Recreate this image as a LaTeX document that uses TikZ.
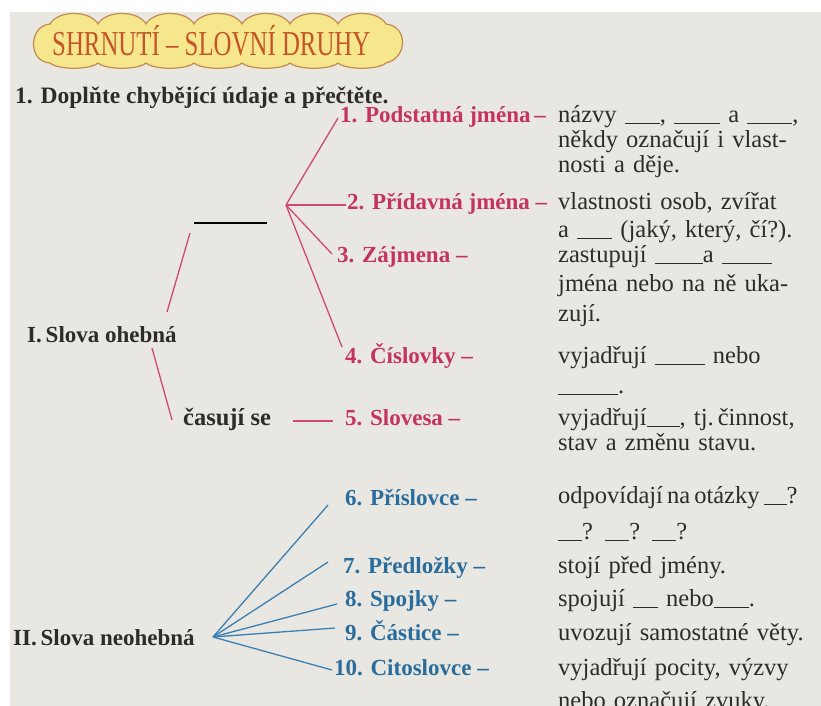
\documentclass[tikz,border=0pt]{standalone}
\usepackage{fontspec}
\setmainfont{Liberation Serif}
\newfontfamily\bannerfont[FakeStretch=0.71]{Liberation Serif}
\usetikzlibrary{positioning}
\definecolor{paper}{HTML}{E8E7E2}
\definecolor{inflect}{HTML}{C4345E}
\definecolor{inflectline}{HTML}{D04A70}
\definecolor{uninflect}{HTML}{2A6D9C}
\definecolor{uninflectline}{HTML}{3A80B2}
\definecolor{ink}{HTML}{2E2B29}
\definecolor{bannerfill}{HTML}{F6E68C}
\definecolor{bannerline}{HTML}{C58A50}
\definecolor{bannertext}{HTML}{C4542A}
\newcommand{\fillgap}[1]{\rule[-1.5pt]{#1}{0.9pt}}
\newcommand{\spread}[2]{\makebox[#1][s]{#2}}
\tikzstyle{redlab}=[anchor=base west,inner sep=0pt,font=\bfseries\fontsize{23}{28}\selectfont,text=inflect]
\tikzstyle{bluelab}=[anchor=base west,inner sep=0pt,font=\bfseries\fontsize{23}{28}\selectfont,text=uninflect]
\tikzstyle{grouplab}=[anchor=base west,inner sep=0pt,font=\bfseries\fontsize{23}{28}\selectfont,text=ink]
\tikzstyle{desc}=[anchor=base west,inner sep=0pt,text width=260pt,align=left,text=ink]
\tikzstyle{redline}=[draw=inflectline,line width=1.3pt]
\tikzstyle{blueline}=[draw=uninflectline,line width=1.3pt]
\begin{document}
\begin{tikzpicture}[x=1pt,y=-1pt]
  \useasboundingbox (0,0) rectangle (821,706);
  \fill[white] (0,0) rectangle (821,706);
  \fill[paper] (10,12) rectangle (821,706);
  % banner
  \filldraw[fill=bannerfill,draw=bannerline,line width=1.2pt]
    (50,24) \foreach \i in {0,...,6} { .. controls ({50+48*\i+8},10) and ({50+48*\i+40},10) .. ({50+48*(\i+1)},24) }
    .. controls (408,26) and (408,58) .. (386,63)
    \foreach \i in {0,...,6} { .. controls ({386-48*\i-8},70) and ({386-48*\i-40},70) .. ({386-48*(\i+1)},63) }
    .. controls (28,62) and (28,26) .. (50,24) -- cycle;
  \node[anchor=base west,inner sep=0pt,font=\bannerfont\fontsize{35}{40}\selectfont,text=bannertext] (banner) at (52,56) {SHRNUTÍ – SLOVNÍ DRUHY};
  \node[anchor=base west,inner sep=0pt,font=\bfseries\fontsize{23.5}{28}\selectfont,text=ink] (task) at (15,103) {1. Doplňte chybějící údaje a přečtěte.};
  % groups
  \node[grouplab] (ohebna) at (27,342) {I.\,Slova ohebná};
  \node[grouplab] (neohebna) at (13,645) {II.\,Slova neohebná};
  \node[inner sep=0pt] (blank) at (230,223) {\rule{73pt}{1.2pt}};
  \node[grouplab,font=\bfseries\fontsize{24.5}{28}\selectfont] (cas) at (183,425) {časují se};
  \coordinate (forkA) at (286,205);
  \coordinate (forkB) at (213,637);
  % word classes
  \node[redlab] (p1) at (340,122) {1. Podstatná jména\,–};
  \node[redlab] (p2) at (347,209) {2. Přídavná jména –};
  \node[redlab] (p3) at (337,262) {3. Zájmena –};
  \node[redlab] (p4) at (345,363) {4. Číslovky –};
  \node[redlab] (p5) at (345,425) {5. Slovesa –};
  \node[bluelab] (p6) at (345,505) {6. Příslovce –};
  \node[bluelab] (p7) at (343,573) {7. Předložky –};
  \node[bluelab] (p8) at (345,606) {8. Spojky –};
  \node[bluelab] (p9) at (345,640) {9. Částice –};
  \node[bluelab] (p10) at (334,675) {10. Citoslovce –};
  % descriptions
  \node[desc,font=\fontsize{24.5}{25.5}\selectfont] (d1) at (558,122)
    {\spread{235pt}{názvy \fillgap{35pt}, \fillgap{46pt} a \fillgap{45pt},}\\
     \spread{235pt}{někdy označují i vlast-}\\ nosti a děje.};
  \node[desc,font=\fontsize{24.5}{28}\selectfont] (d2) at (558,209)
    {\spread{235pt}{vlastnosti osob, zvířat}\\ \spread{235pt}{a \fillgap{35pt} (jaký, který, čí?).}};
  \node[desc,font=\fontsize{24.5}{29.5}\selectfont] (d3) at (558,262)
    {\spread{235pt}{zastupují \fillgap{48pt}a \fillgap{50pt}}\\
     \spread{235pt}{jména nebo na ně uka-}\\ zují.};
  \node[desc,font=\fontsize{24.5}{30}\selectfont] (d4) at (558,363)
    {\spread{239pt}{vyjadřují \fillgap{50pt} nebo}\\ \fillgap{60pt}.};
  \node[desc,font=\fontsize{24.5}{25}\selectfont] (d5) at (558,425)
    {\spread{239pt}{vyjadřují\fillgap{33pt}, tj.\,činnost,}\\ stav a změnu stavu.};
  \node[desc,font=\fontsize{24.5}{36}\selectfont] (d6) at (558,503)
    {odpovídají\,na\,otázky\,\fillgap{23pt}?\\ \fillgap{24pt}? \fillgap{24pt}? \fillgap{24pt}?};
  \node[desc,font=\fontsize{24.5}{26}\selectfont] (d7) at (558,573) {stojí před jmény.};
  \node[desc,font=\fontsize{24.5}{26}\selectfont] (d8) at (558,606) {spojují \fillgap{25pt} nebo\fillgap{35pt}.};
  \node[desc,font=\fontsize{24.5}{26}\selectfont] (d9) at (558,640) {uvozují samostatné věty.};
  \node[desc,font=\fontsize{24.5}{33}\selectfont] (d10) at (558,675)
    {\spread{248pt}{vyjadřují pocity, výzvy}\\ nebo označují zvuky.};
  % connectors
  \draw[redline] ([xshift=140pt,yshift=30pt]ohebna.base west) -- ([xshift=-40pt,yshift=-10pt]blank.center);
  \draw[redline] ([xshift=125pt,yshift=-6pt]ohebna.base west) -- ([xshift=-11pt,yshift=5pt]cas.base west);
  \draw[redline] (forkA) -- ([xshift=-2pt,yshift=4pt]p1.base west);
  \draw[redline] (forkA) -- ([xshift=-1pt,yshift=4pt]p2.base west);
  \draw[redline] (forkA) -- ([xshift=-5pt,yshift=8pt]p3.base west);
  \draw[redline] (forkA) -- ([xshift=-3pt,yshift=16pt]p4.base west);
  \draw[redline] ([xshift=22pt,yshift=4pt]cas.base east) -- ([xshift=-12pt,yshift=4pt]p5.base west);
  \draw[blueline] (forkB) -- ([xshift=-17pt]p6.base west);
  \draw[blueline] (forkB) -- ([xshift=-15pt,yshift=11pt]p7.base west);
  \draw[blueline] (forkB) -- ([xshift=-8pt,yshift=2pt]p8.base west);
  \draw[blueline] (forkB) -- ([xshift=-10pt,yshift=12pt]p9.base west);
  \draw[blueline] (forkB) -- ([xshift=-2pt,yshift=5pt]p10.base west);
\end{tikzpicture}
\end{document}
